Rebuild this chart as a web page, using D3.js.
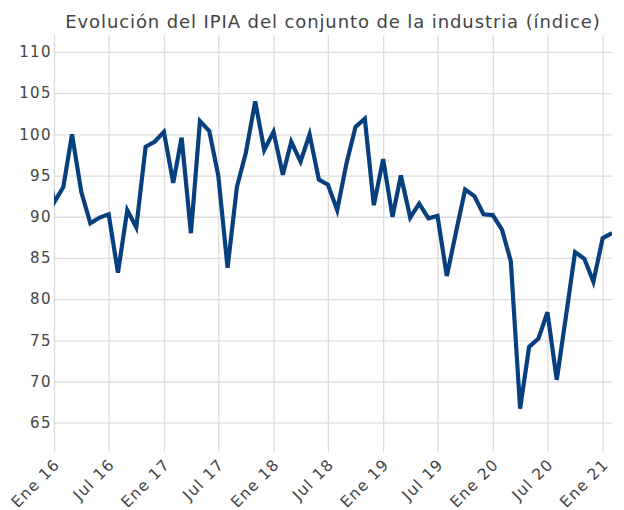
<!DOCTYPE html>
<html>
<head>
<meta charset="utf-8">
<script src="https://cdn.jsdelivr.net/npm/d3@7/dist/d3.min.js"></script>
<style>
  body { margin: 0; background: #fff; }
</style>
</head>
<body>
<div id="chart_ipia"></div>
<script>
// first month of the series (Dic 15 is cut by the left edge of the plot)
var firstMonth = "2015-12";

// monthly index values, Dic 15 .. Feb 21
var ipiaValues = [
    99.0,
    91.7, 93.6, 100.0, 93.0, 89.2, 89.9, 90.3, 83.2, 90.8, 88.7, 98.5, 99.1,
    100.3, 94.1, 99.6, 88.0, 101.6, 100.4, 95.0, 83.8, 93.6, 97.8, 104.0, 98.1,
    100.3, 95.1, 99.1, 96.7, 100.0, 94.5, 93.9, 90.8, 96.5, 100.9, 101.9, 91.4,
    97.0, 90.0, 95.0, 89.9, 91.6, 89.8, 90.1, 82.8, 88.2, 93.3, 92.5, 90.3,
    90.2, 88.4, 84.6, 66.7, 74.2, 75.2, 78.4, 70.2, 78.0, 85.7, 84.9, 82.1,
    87.4, 88.0
];

var yTicks = [65, 70, 75, 80, 85, 90, 95, 100, 105, 110];
var xTickMonths = ["2016-01", "2016-07", "2017-01", "2017-07", "2018-01", "2018-07",
    "2019-01", "2019-07", "2020-01", "2020-07", "2021-01"];
var xTickLabels = ["Ene 16", "Jul 16", "Ene 17", "Jul 17", "Ene 18", "Jul 18",
    "Ene 19", "Jul 19", "Ene 20", "Jul 20", "Ene 21"];

var titleChart = "Evolución del IPIA del conjunto de la industria (índice)";

var infoChart = {
    width: 624,
    height: 510,
    divId: "#chart_ipia"
};

drawLineChart();

function drawLineChart() {
    var margin = { top: 35, right: 12, bottom: 58, left: 54 };
    var w = infoChart.width - margin.left - margin.right;
    var h = infoChart.height - margin.top - margin.bottom;
    var fontName = "DejaVu Sans, Verdana, sans-serif";

    var parseMonth = d3.timeParse("%Y-%m");
    var start = parseMonth(firstMonth);
    var data = ipiaValues.map(function(v, i) {
        return { date: d3.timeMonth.offset(start, i), value: v };
    });

    var x = d3.scaleTime()
        .domain([parseMonth("2016-01"), parseMonth("2021-02")])
        .range([0, w]);
    var y = d3.scaleLinear()
        .domain([61.44, 112.06])
        .range([h, 0]);

    d3.select(infoChart.divId).html("");
    var svg = d3.select(infoChart.divId).append("svg")
        .attr("width", infoChart.width)
        .attr("height", infoChart.height);

    var g = svg.append("g")
        .attr("transform", "translate(" + margin.left + "," + margin.top + ")");

    // horizontal grid + y labels
    var yAxis = g.append("g")
        .attr("class", "y-axis")
        .call(d3.axisLeft(y).tickValues(yTicks).tickSize(-w).tickPadding(2));
    yAxis.select(".domain").remove();
    yAxis.selectAll("line").style("stroke", "#dcdcdc").style("stroke-width", 1.3);
    yAxis.selectAll("text")
        .style("font-family", fontName)
        .style("font-size", "15px")
        .style("letter-spacing", "1.4px")
        .style("fill", "#444");

    // vertical grid + x labels
    var xTickDates = xTickMonths.map(parseMonth);
    var xAxis = g.append("g")
        .attr("class", "x-axis")
        .attr("transform", "translate(0," + h + ")")
        .call(d3.axisBottom(x).tickValues(xTickDates).tickSize(-h)
            .tickFormat(function(d, i) { return xTickLabels[i]; }));
    xAxis.select(".domain").remove();
    xAxis.selectAll("line").style("stroke", "#dcdcdc").style("stroke-width", 1.3);
    xAxis.selectAll("text")
        .style("font-family", fontName)
        .style("font-size", "15.5px")
        .style("letter-spacing", "1.2px")
        .style("fill", "#444")
        .attr("text-anchor", "end")
        .attr("x", -5)
        .attr("y", 8.5)
        .attr("dy", "0.35em")
        .attr("transform", "rotate(-45)");

    // clip the line to the plot area
    svg.append("defs").append("clipPath")
        .attr("id", "plot-clip")
        .append("rect")
        .attr("width", w)
        .attr("height", h);

    var line = d3.line()
        .x(function(d) { return x(d.date); })
        .y(function(d) { return y(d.value); });

    g.append("path")
        .datum(data)
        .attr("clip-path", "url(#plot-clip)")
        .attr("d", line)
        .style("fill", "none")
        .style("stroke", "#083f7e")
        .style("stroke-width", 4.2);

    // title
    svg.append("text")
        .attr("x", margin.left + w / 2)
        .attr("y", 28)
        .attr("text-anchor", "middle")
        .style("font-family", fontName)
        .style("font-size", "18px")
        .style("letter-spacing", "0.9px")
        .style("fill", "#444")
        .text(titleChart);
}
</script>
</body>
</html>
